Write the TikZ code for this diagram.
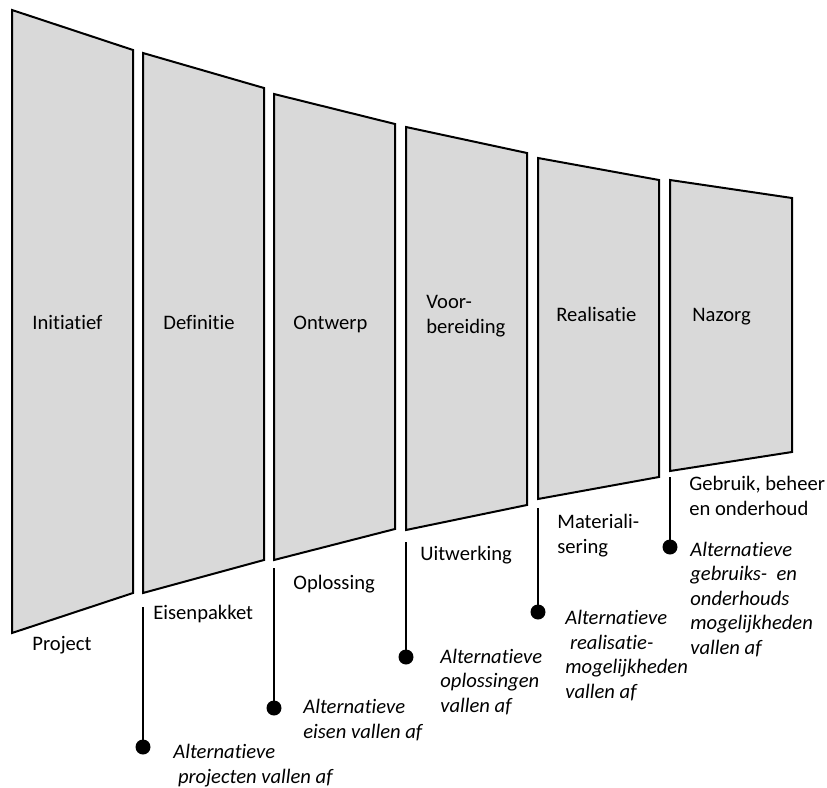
\documentclass[tikz,border=0pt]{standalone}
\usepackage{fontspec}
\setmainfont{Carlito}[Ligatures=NoCommon]
\definecolor{panelgray}{HTML}{D9D9D9}
\begin{document}
\begin{tikzpicture}[x=0.5pt,y=-0.5pt,
  panel/.style={draw=black,line width=1pt,fill=panelgray,line join=miter},
  stem/.style={line width=1pt},
  dot/.style={circle,fill=black,inner sep=0pt,minimum size=7.5pt},
  lbl/.style={anchor=base west,inner sep=0pt,align=left,font=\fontsize{10.3}{12.2}\selectfont},
  alt/.style={lbl,font=\fontsize{10.3}{12.2}\selectfont\itshape}]
\useasboundingbox (0,0) rectangle (827,788);

% panels
\draw[panel] (12,10) -- (133,50) -- (133,593) -- (12,633) -- cycle;
\draw[panel] (143,53) -- (264,88) -- (264,560) -- (143,593) -- cycle;
\draw[panel] (274,94) -- (395,124) -- (395,529) -- (274,560) -- cycle;
\draw[panel] (406,127) -- (527,153) -- (527,505) -- (406,530) -- cycle;
\draw[panel] (538,158) -- (659,180) -- (659,477) -- (538,499) -- cycle;
\draw[panel] (670,180) -- (792,198) -- (792,452) -- (670,471) -- cycle;

% panel labels (anchor = baseline of the last line)
\node[lbl] (initiatief) at (32,329) {Initiatief};
\node[lbl] (definitie) at (163,329) {Definitie};
\node[lbl] (ontwerp) at (293,329) {Ontwerp};
\node[lbl] (voorbereiding) at (426,333) {Voor-\\bereiding};
\node[lbl] (realisatie) at (556,321) {Realisatie};
\node[lbl] (nazorg) at (692,321) {Nazorg};

% result labels
\node[lbl] (project) at (32,650) {Project};
\node[lbl] (eisenpakket) at (153,619) {Eisenpakket};
\node[lbl] (oplossing) at (293,589) {Oplossing};
\node[lbl] (uitwerking) at (420,560) {Uitwerking};
\node[lbl] (materialisering) at (557,553) {Materiali-\\sering};
\node[lbl] (gebruik) at (689,515) {Gebruik, beheer\\en onderhoud};

% stems and dots
\coordinate (s1) at (143,607);
\coordinate (s2) at (274,568);
\coordinate (s3) at (406,542);
\coordinate (s4) at (538,508);
\coordinate (s5) at (670,477);
\node[dot] (d1) at (143,747) {};
\node[dot] (d2) at (274,708) {};
\node[dot] (d3) at (406,657) {};
\node[dot] (d4) at (538,612) {};
\node[dot] (d5) at (670,547) {};
\draw[stem] (s1) -- (d1.center);
\draw[stem] (s2) -- (d2.center);
\draw[stem] (s3) -- (d3.center);
\draw[stem] (s4) -- (d4.center);
\draw[stem] (s5) -- (d5.center);

% alternatives
\node[alt] (a1) at (173,783) {Alternatieve\\\ projecten vallen af};
\node[alt] (a2) at (303,738) {Alternatieve\\eisen vallen af};
\node[alt] (a3) at (440,712) {Alternatieve\\oplossingen\\vallen af};
\node[alt] (a4) at (565,698) {Alternatieve\\\ realisatie-\\mogelijkheden\\vallen af};
\node[alt] (a5) at (690,654) {Alternatieve\\gebruiks-\ \ en\\onderhouds\\mogelijkheden\\vallen af};
\end{tikzpicture}
\end{document}
